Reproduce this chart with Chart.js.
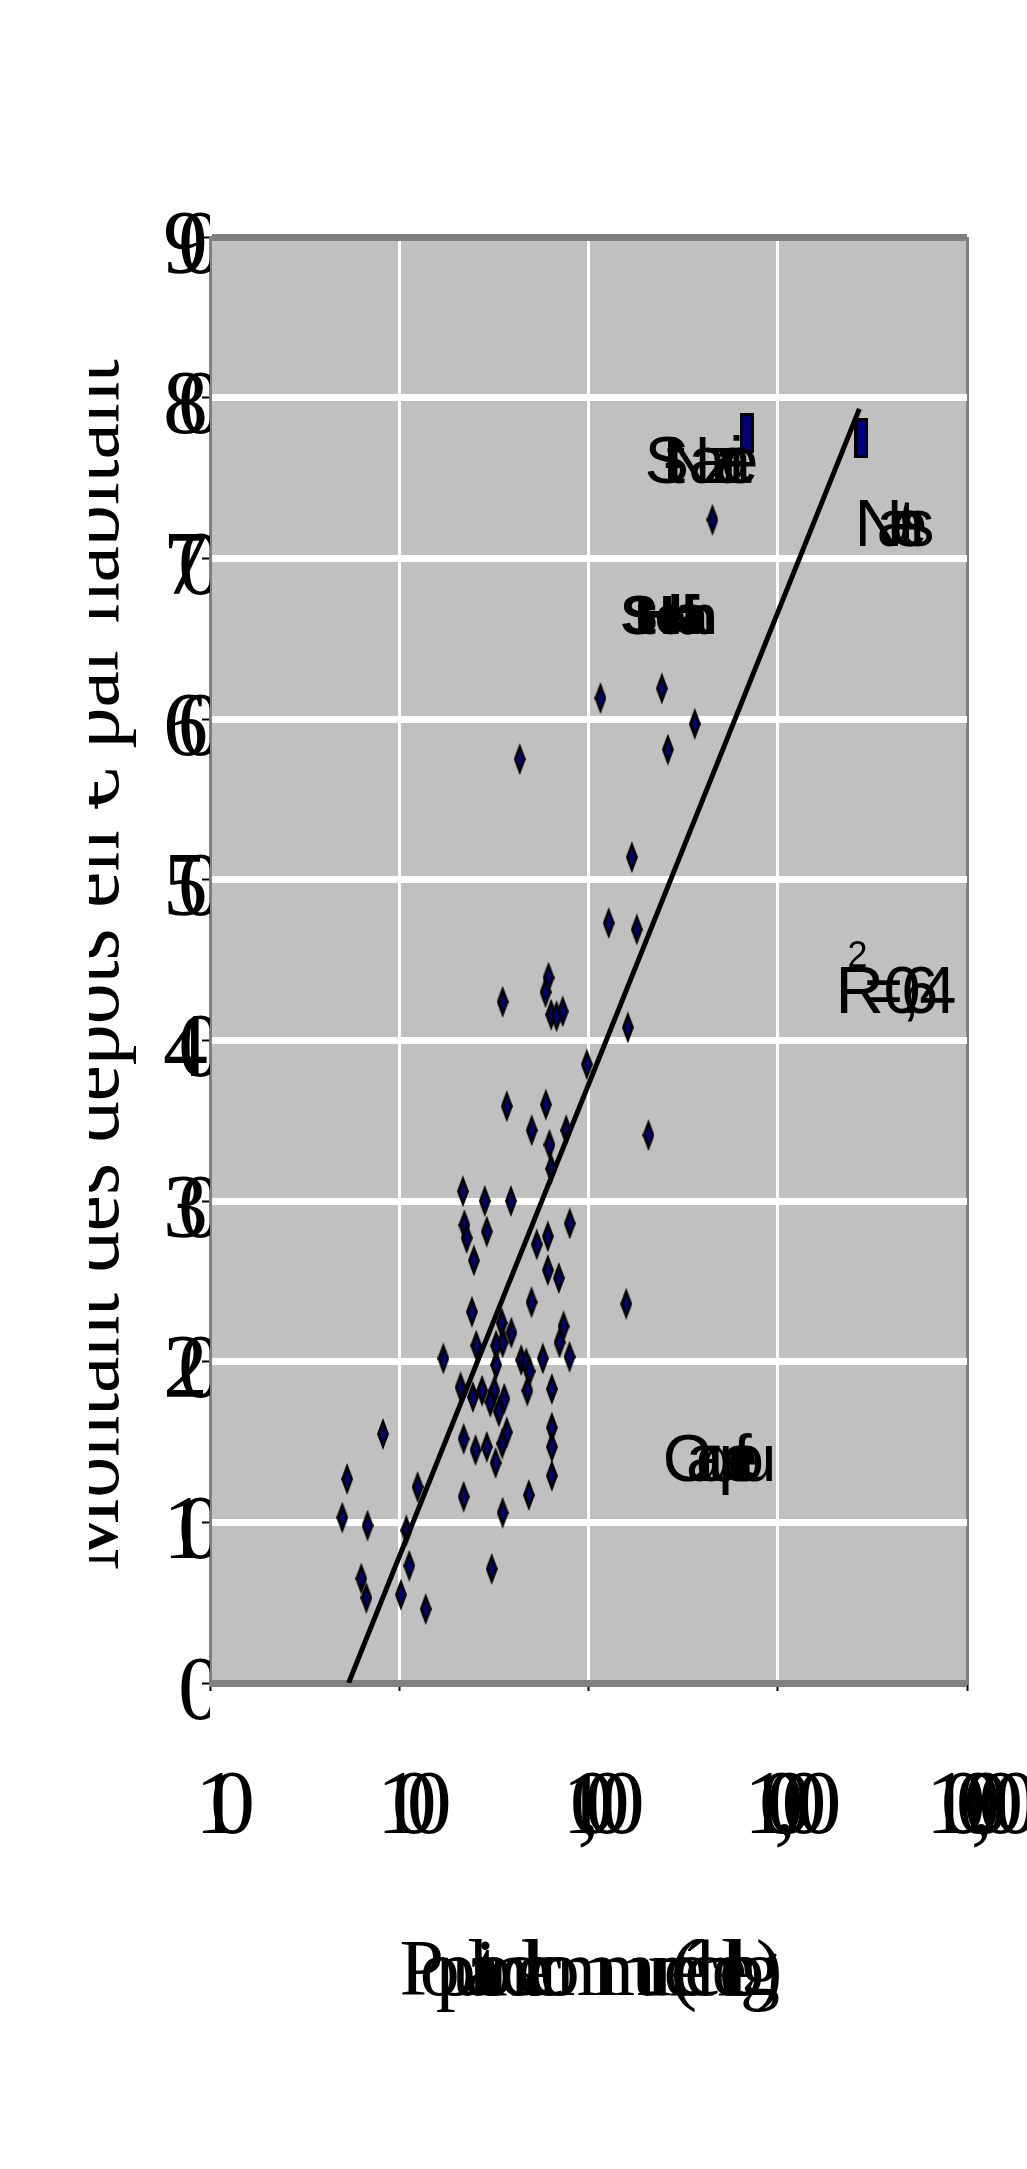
<!DOCTYPE html>
<html lang="fr">
<head>
<meta charset="utf-8">
<title>Montant par habitant</title>
<script src="https://cdn.jsdelivr.net/npm/chart.js@4.4.1/dist/chart.umd.min.js"></script>
<style>
    html, body { margin: 0; padding: 0; background: #ffffff; }
    canvas { display: block; }
</style>
</head>
<body>
<canvas id="grafica" width="1027" height="2169"></canvas>
<script>
// datos: communes (population, montant en € par habitant)
const poblacion = [
    4520, 1157, 2440, 3645, 2625, 433, 1694, 1279, 1799, 615,
    593, 352, 635, 678, 731, 1614, 980, 370, 595, 501,
    762, 622, 2075, 635, 217, 283, 389, 221, 227, 290,
    796, 533, 610, 248, 610, 697, 500, 1582, 242, 348,
    391, 738, 703, 255, 325, 352, 171, 325, 441, 469,
    574, 794, 488, 211, 274, 318, 475, 640, 245, 359,
    303, 336, 82, 219, 253, 290, 323, 350, 370, 640,
    640, 640, 53, 125, 219, 484, 50, 68, 109, 352,
    113, 308, 63, 67, 102, 138
];
const montante = [
    72.4, 61.3, 61.9, 59.7, 58.1, 57.5, 51.4, 47.3, 46.9, 43.9,
    43.0, 42.4, 41.6, 41.5, 41.8, 40.8, 38.5, 35.9, 36.0, 34.4,
    34.4, 33.5, 34.1, 32.0, 30.6, 30.0, 30.0, 28.5, 27.7, 28.1,
    28.6, 27.3, 27.8, 26.3, 25.7, 25.2, 23.7, 23.6, 23.1, 22.4,
    21.8, 22.2, 21.2, 21.0, 21.0, 21.2, 20.2, 19.8, 20.1, 19.9,
    20.2, 20.3, 19.4, 18.4, 18.2, 18.2, 18.2, 18.3, 17.8, 17.7,
    17.5, 16.9, 15.5, 15.2, 14.5, 14.7, 13.7, 14.9, 15.6, 15.9,
    14.7, 12.9, 12.7, 12.2, 11.6, 11.7, 10.3, 9.8, 9.5, 10.6,
    7.3, 7.1, 6.5, 5.3, 5.5, 4.6
];

// grandes villes (marqueur rectangle)
const poblacionGrandes = [6840, 27700];
const montanteGrandes = [77.8, 77.5];

// courbe de tendance logarithmique (extrémités lues)
const tendenciaX = [54, 27000];
const tendenciaY = [0, 79.3];

// graduations
const ticksX = [10, 100, 1000, 10000, 100000];
const etiquetasX = ['10', '100', '1,000', '10,000', '100,000'];
const ticksY = [0, 10, 20, 30, 40, 50, 60, 70, 80, 90];

// textes dans la zone de tracé (ancrés en unités de données)
const textosNotas = ['St-Nazaire', 'Nantes', 'St-Herblain', 'R² = 0,64', 'Carquefou'];
const notasX = [3950, 41400, 2660, 42100, 4920];
const notasY = [74.7, 70.75, 65.3, 41.7, 12.6];

const tituloY = 'Montant des dépôts en € par habitant';
const tituloX = 'Population de la commune (échelle log)';

const gris = '#808080';
const blanco = '#ffffff';
const serif = '"Liberation Serif", "Times New Roman", serif';
const sans = '"Liberation Sans", Arial, sans-serif';

document.addEventListener('DOMContentLoaded', function () {
    graficaDispersion();
});

//marcadores
function crearRombo() {
    const c = document.createElement('canvas');
    c.width = 12;
    c.height = 32;
    const g = c.getContext('2d');
    g.beginPath();
    g.moveTo(6, 0); g.lineTo(12, 16); g.lineTo(6, 32); g.lineTo(0, 16);
    g.closePath();
    g.fillStyle = '#000000';
    g.fill();
    g.beginPath();
    g.moveTo(6, 7); g.lineTo(8.5, 16); g.lineTo(6, 25); g.lineTo(3.5, 16);
    g.closePath();
    g.fillStyle = '#000080';
    g.fill();
    return c;
}

function crearRectangulo() {
    const c = document.createElement('canvas');
    c.width = 14;
    c.height = 40;
    const g = c.getContext('2d');
    g.fillStyle = '#000000';
    g.fillRect(0, 0, 14, 40);
    g.fillStyle = '#000080';
    g.fillRect(3, 3, 8, 34);
    return c;
}

// texto con letras encimadas, ajustado a un ancho
function textoComprimido(ctx, texto, x, y, ancho) {
    ctx.letterSpacing = '0px';
    const natural = ctx.measureText(texto).width;
    const n = [...texto].length;
    const esp = n > 1 ? (ancho - natural) / (n - 1) : 0;
    ctx.letterSpacing = esp + 'px';
    ctx.textAlign = 'left';
    ctx.fillText(texto, x - ancho / 2, y);
    ctx.letterSpacing = '0px';
}

const pluginFondo = {
    id: 'fondo',
    beforeDraw(chart) {
        const ctx = chart.ctx;
        const a = chart.chartArea;
        ctx.save();
        ctx.fillStyle = blanco;
        ctx.fillRect(0, 0, chart.width, chart.height);
        ctx.fillStyle = '#c0c0c0';
        ctx.fillRect(a.left, a.top, a.right - a.left, a.bottom - a.top);
        ctx.restore();
        // las etiquetas de los ejes salen encimadas
        ctx.letterSpacing = '-30px';
    },
    beforeDatasetsDraw(chart) {
        chart.ctx.letterSpacing = '0px';
    },
    afterDraw(chart) {
        const ctx = chart.ctx;
        const sx = chart.scales.x;
        const sy = chart.scales.y;
        ctx.save();
        ctx.letterSpacing = '0px';
        ctx.fillStyle = '#000000';
        ctx.textBaseline = 'alphabetic';

        // titulo eje Y (recortado a la izquierda)
        ctx.save();
        ctx.beginPath();
        ctx.rect(89, 0, 200, chart.height);
        ctx.clip();
        ctx.translate(118, 965);
        ctx.rotate(-Math.PI / 2);
        ctx.font = '82px ' + serif;
        ctx.textAlign = 'center';
        ctx.fillText(tituloY, 0, 0);
        ctx.restore();

        // titulo eje X
        ctx.font = '80px ' + serif;
        textoComprimido(ctx, tituloX, 591, 1995, 383);

        // notas en la zona de tracé
        const fuentes = ['67px ' + sans, '67px ' + sans, 'bold 56px ' + sans, '67px ' + sans, '67px ' + sans];
        const anchos = [114, 80, 97, 121, 114];
        textosNotas.forEach((t, i) => {
            const px = sx.getPixelForValue(notasX[i]);
            const py = sy.getPixelForValue(notasY[i]);
            ctx.font = fuentes[i];
            if (t.includes('²')) {
                // exposant dessiné à part, plus grand, au-dessus du R
                textoComprimido(ctx, t.replace('²', ''), px, py, anchos[i]);
                ctx.font = '36px ' + sans;
                ctx.textAlign = 'left';
                ctx.fillText('2', px - anchos[i] / 2 + 12, py - 46);
            } else {
                textoComprimido(ctx, t, px, py, anchos[i]);
            }
        });
        ctx.restore();
    }
};

function graficaDispersion() {
    const puntos = poblacion.map((p, i) => ({ x: p, y: montante[i] }));
    const grandes = poblacionGrandes.map((p, i) => ({ x: p, y: montanteGrandes[i] }));
    const linea = tendenciaX.map((p, i) => ({ x: p, y: tendenciaY[i] }));

    const data = {
        datasets: [
            {
                label: 'Tendance',
                data: linea,
                showLine: true,
                borderColor: '#000000',
                borderWidth: 5,
                pointRadius: 0,
                fill: false,
                order: 0
            },
            {
                label: 'Villes',
                data: grandes,
                pointStyle: crearRectangulo(),
                pointRadius: 7,
                order: 1
            },
            {
                label: 'Communes',
                data: puntos,
                pointStyle: crearRombo(),
                pointRadius: 6,
                order: 2
            }
        ]
    };

    const config = {
        type: 'scatter',
        data: data,
        options: {
            responsive: false,
            animation: false,
            events: [],
            devicePixelRatio: 1,
            layout: {
                padding: { top: 237, right: 60, left: 0, bottom: 0 }
            },
            plugins: {
                legend: { display: false },
                tooltip: { enabled: false }
            },
            scales: {
                x: {
                    type: 'logarithmic',
                    min: 10,
                    max: 100000,
                    afterBuildTicks: s => { s.ticks = ticksX.map(v => ({ value: v })); },
                    afterFit: s => { s.height = 486; s.paddingLeft = 0; s.paddingRight = 0; },
                    ticks: {
                        autoSkip: false,
                        maxRotation: 0,
                        minRotation: 0,
                        color: '#000000',
                        padding: 64,
                        font: { family: serif, size: 90 },
                        callback: (v, i) => etiquetasX[i]
                    },
                    grid: {
                        color: c => (c.tick && (c.tick.value === 100000 || c.tick.value === 10)) ? gris : blanco,
                        lineWidth: 3,
                        tickColor: '#000000',
                        tickLength: 8,
                        tickWidth: 2
                    },
                    border: { color: gris, width: 3 }
                },
                y: {
                    type: 'linear',
                    min: 0,
                    max: 90,
                    afterBuildTicks: s => { s.ticks = ticksY.map(v => ({ value: v })); },
                    afterFit: s => { s.width = 210; s.paddingTop = 0; s.paddingBottom = 0; },
                    ticks: {
                        color: '#000000',
                        padding: 9,
                        labelOffset: 12,
                        font: { family: serif, size: 90 }
                    },
                    grid: {
                        color: c => (c.tick && (c.tick.value === 90 || c.tick.value === 0)) ? gris : blanco,
                        lineWidth: 7,
                        tickColor: '#000000',
                        tickLength: 8,
                        tickWidth: 2
                    },
                    border: { color: gris, width: 3 }
                }
            }
        },
        plugins: [pluginFondo]
    };

    const ctx = document.getElementById('grafica').getContext('2d');
    new Chart(ctx, config);
}
</script>
</body>
</html>
